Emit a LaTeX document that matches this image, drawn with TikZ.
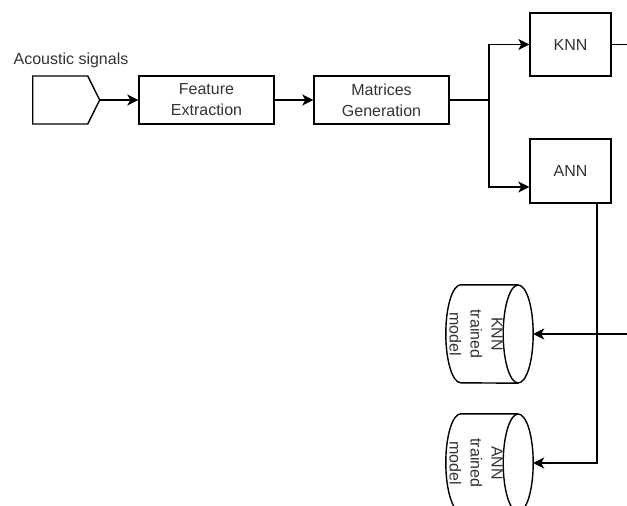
\documentclass[tikz,border=0pt]{standalone}
\usepackage{fontspec}
\setmainfont{Liberation Sans}
\usepackage{xcolor}
\definecolor{textgray}{RGB}{51,51,51}
\usepackage{tikz}
\usetikzlibrary{positioning,shapes.geometric,shapes.symbols,arrows.meta,calc}
\tikzset{
  procbox/.style={rectangle,draw=black,fill=white,text=textgray,align=center,
    font=\fontsize{16}{21}\selectfont,line width=1.4pt,inner sep=2pt},
  srcshape/.style={signal,signal to=east,signal from=nowhere,signal pointer angle=127,
    draw=black,fill=white,line width=1.4pt,minimum width=67pt,minimum height=48pt,inner sep=0pt},
  dbslot/.style={rectangle,draw=none,minimum width=87pt,minimum height=98pt,inner sep=0pt},
  dbtext/.style={rotate=-90,align=center,text=textgray,
    font=\fontsize{16}{21}\selectfont,inner sep=0pt},
  fl/.style={-{Stealth[length=11pt,width=11pt,inset=3pt]},draw=black,line width=1.4pt},
  ln/.style={draw=black,line width=1.4pt},
}
\begin{document}
\begin{tikzpicture}[x=1pt,y=-1pt]
  \useasboundingbox (0,0) rectangle (627,506);
  \clip (0,0) rectangle (627,506);
  % --- Entrada ---
  \node[srcshape,anchor=west] (SRC) at (32,100) {};
  \node[text=textgray,font=\fontsize{16}{21}\selectfont] (SRCL) at (71,60) {Acoustic signals};
  % --- Etapas ---
  \node[procbox,minimum width=135pt,minimum height=48pt] (FE) at (206.5,100) {Feature\\Extraction};
  \node[procbox,minimum width=135pt,minimum height=48pt] (MG) at (381.5,100) {Matrices\\Generation};
  \node[procbox,minimum width=81pt,minimum height=63pt] (KNN) at (570.5,44.5) {KNN};
  \node[procbox,minimum width=81pt,minimum height=64pt] (ANN) at (570.5,171) {ANN};
  % --- Modelos entrenados (cilindros) ---
  \node[dbslot] (KM) at (489.5,334) {};
  \node[dbslot] (AM) at (489.5,463) {};
  \foreach \c in {KM,AM}{
    \draw[ln,fill=white] ([xshift=-15pt]\c.north east) -- ([xshift=15pt]\c.north west)
      arc[start angle=90,end angle=270,x radius=15pt,y radius=49pt]
      -- ([xshift=-15pt]\c.south east);
    \draw[ln,fill=white] ([xshift=-15pt]\c.east) ellipse[x radius=15pt,y radius=49pt];
  }
  \node[dbtext] (KMT) at (476,334) {KNN\\trained\\model};
  \node[dbtext] (AMT) at (476,463) {ANN\\trained\\model};
  % --- Puntos auxiliares ---
  \coordinate (SPLIT) at (489,100);
  \coordinate (KOUT) at (634,44.5);
  \coordinate (KIN) at (634,334);
  % --- Conexiones ---
  \draw[fl] (SRC.east) -- (FE.west);
  \draw[fl] (FE.east) -- (MG.west);
  \draw[ln] (MG.east) -- (SPLIT);
  \draw[fl] (SPLIT) |- (KNN.west);
  \draw[fl] (SPLIT) |- ([yshift=-16pt]ANN.west);
  \draw[ln] (KNN.east) -- (KOUT);
  \draw[fl] (KIN) -- (KM.east);
  \draw[fl] ([xshift=26.5pt]ANN.south) |- (AM.east);
\end{tikzpicture}
\end{document}
